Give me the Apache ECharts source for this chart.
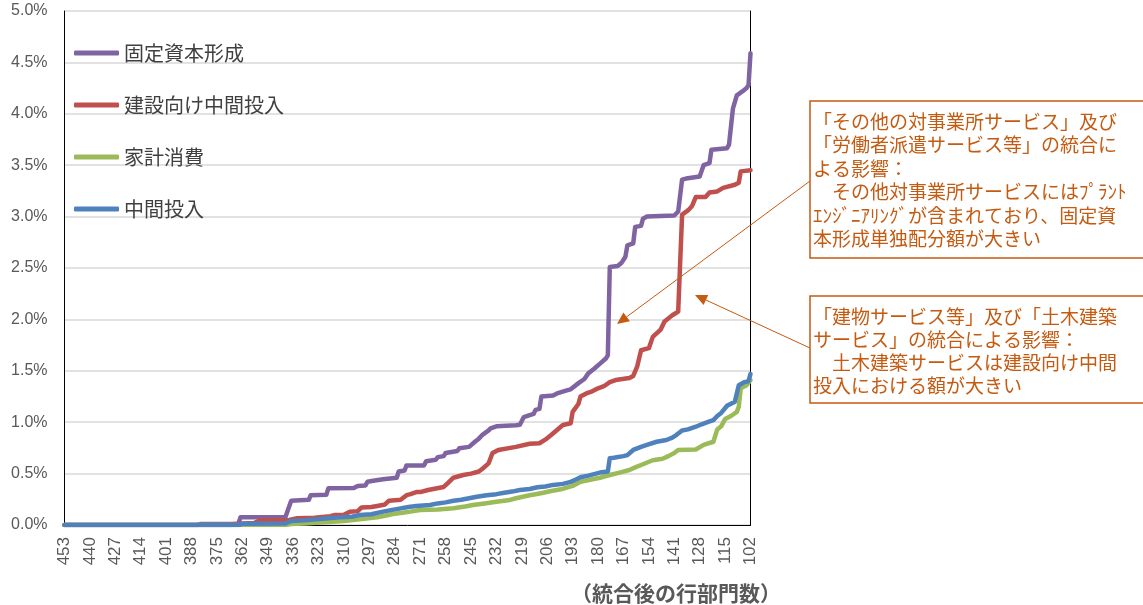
<!DOCTYPE html>
<html>
<head>
<meta charset="utf-8">
<script src="https://cdn.jsdelivr.net/npm/echarts@6/dist/echarts.min.js"></script>
<style>
html,body{margin:0;padding:0;background:#fff;}
#chart{width:1143px;height:605px;}
</style>
</head>
<body>
<div id="chart"></div>
<script>
// ---- categories: row-sector count after merging (453 → 102) ----
const CAT_FIRST = 453;
const CAT_LAST = 102;
const categories = [];
for (let c = CAT_FIRST; c >= CAT_LAST; c--) categories.push(String(c));

// ---- y-axis ticks (%) ----
const yTicks = { min: 0, max: 5, interval: 0.5 };

const seriesNames = ['固定資本形成', '建設向け中間投入', '家計消費', '中間投入'];

// ---- series values: [category, share %] at points where the value changes ----
const koteiShihon = [
  [453,0],[385,0],[383,0.01],[364,0.01],[363,0.075],[340,0.075],[337,0.236],[328,0.245],[327,0.29],
  [319,0.295],[318,0.357],[305,0.36],[303,0.38],[299,0.385],[298,0.42],[295,0.43],[290,0.445],[289,0.455],
  [283,0.46],[282,0.52],[279,0.53],[278,0.58],[269,0.58],[268,0.62],[263,0.635],[262,0.66],[259,0.67],
  [258,0.70],[252,0.72],[251,0.746],[246,0.76],[243,0.81],[241,0.84],[239,0.88],[236,0.92],[235,0.94],
  [232,0.96],[222,0.97],[220,0.975],[218,1.05],[213,1.08],[212,1.12],[210,1.13],[209,1.25],[203,1.26],
  [201,1.28],[196,1.31],[194,1.32],[190,1.38],[187,1.42],[185,1.475],[182,1.52],[179,1.57],[176,1.62],
  [175,1.65],[174,2.51],[170,2.52],[168,2.55],[166,2.61],[165,2.72],[162,2.74],[161,2.90],[158,2.91],
  [157,2.98],[155,3.0],[141,3.01],[139,3.05],[137,3.36],[135,3.37],[128,3.39],[126,3.50],[123,3.52],
  [122,3.65],[114,3.665],[113,3.70],[111,4.05],[109,4.18],[106,4.22],[104,4.25],[103,4.28],[102,4.59]
];
const kensetsuChukan = [
  [453,0],[368,0],[366,0.01],[356,0.02],[353,0.045],[340,0.045],[338,0.05],[334,0.065],[325,0.07],
  [324,0.08],[317,0.085],[315,0.097],[310,0.1],[307,0.13],[303,0.135],[301,0.17],[296,0.175],[293,0.185],
  [289,0.20],[287,0.236],[281,0.245],[278,0.29],[276,0.30],[273,0.32],[271,0.32],[267,0.34],[259,0.37],
  [257,0.405],[254,0.46],[249,0.486],[245,0.50],[241,0.52],[239,0.55],[236,0.60],[234,0.70],[231,0.73],
  [222,0.76],[215,0.79],[210,0.795],[207,0.83],[204,0.875],[201,0.924],[198,0.973],[194,0.99],[193,1.10],
  [190,1.18],[189,1.25],[186,1.28],[183,1.30],[180,1.33],[177,1.35],[174,1.39],[171,1.41],[164,1.43],
  [162,1.45],[160,1.54],[158,1.70],[154,1.72],[152,1.83],[148,1.90],[146,1.98],[142,2.04],[139,2.075],
  [138,2.08],[137,3.02],[134,3.06],[132,3.10],[130,3.19],[125,3.19],[123,3.235],[119,3.245],[116,3.28],
  [110,3.31],[108,3.33],[107,3.44],[102,3.45]
];
const kakeiShohi = [
  [453,0],[340,0],[337,0.01],[330,0.015],[324,0.022],[318,0.03],[310,0.04],[302,0.055],[293,0.075],
  [289,0.09],[285,0.107],[280,0.12],[276,0.13],[271,0.146],[262,0.15],[254,0.162],[248,0.18],[244,0.195],
  [238,0.21],[232,0.227],[226,0.24],[222,0.26],[215,0.29],[212,0.30],[208,0.314],[204,0.33],[199,0.347],
  [193,0.38],[189,0.42],[184,0.44],[179,0.46],[174,0.486],[169,0.51],[164,0.535],[161,0.56],[158,0.584],
  [152,0.63],[147,0.645],[144,0.67],[141,0.70],[139,0.73],[130,0.735],[126,0.78],[121,0.81],[119,0.93],
  [117,0.96],[115,1.03],[112,1.06],[109,1.10],[108,1.15],[107,1.33],[104,1.36],[102,1.41]
];
const chukanTonyu = [
  [453,0],[364,0],[362,0.012],[340,0.015],[337,0.04],[330,0.045],[324,0.055],[318,0.065],[312,0.075],
  [306,0.08],[302,0.097],[296,0.105],[290,0.13],[286,0.145],[281,0.162],[277,0.175],[273,0.185],[266,0.195],
  [262,0.21],[258,0.22],[254,0.236],[250,0.245],[246,0.26],[242,0.275],[237,0.29],[232,0.30],[228,0.314],
  [224,0.325],[220,0.34],[215,0.35],[211,0.367],[207,0.375],[203,0.39],[198,0.40],[194,0.42],[191,0.445],
  [189,0.465],[185,0.48],[179,0.51],[175,0.52],[174,0.65],[172,0.655],[167,0.67],[165,0.68],[162,0.73],
  [158,0.76],[155,0.78],[150,0.81],[145,0.827],[142,0.85],[140,0.875],[137,0.92],[134,0.93],[130,0.956],
  [127,0.98],[124,1.0],[121,1.02],[119,1.06],[117,1.09],[114,1.16],[110,1.20],[109,1.21],[108,1.36],
  [105,1.39],[103,1.40],[102,1.47]
];

// ---- annotation texts ----
const note1Lines = [
  '「その他の対事業所サービス」及び',
  '「労働者派遣サービス等」の統合に',
  'よる影響：',
  '　その他対事業所サービスにはﾌﾟﾗﾝﾄ',
  'ｴﾝｼﾞﾆｱﾘﾝｸﾞが含まれており、固定資',
  '本形成単独配分額が大きい'
];
const note2Lines = [
  '「建物サービス等」及び「土木建築',
  'サービス」の統合による影響：',
  '　土木建築サービスは建設向け中間',
  '投入における額が大きい'
];
const xAxisTitle = '（統合後の行部門数）';

// ---- styling ----
const colors = ['#8064A2', '#C0504D', '#9BBB59', '#4F81BD'];
const NOTE_COLOR = '#C55A11';
const JP = "'Noto Sans CJK JP', sans-serif";
const NUM = "'Liberation Sans', Arial, sans-serif";

const toSeriesData = arr => arr.map(([c, v]) => [String(c), v]);
const allSeries = [koteiShihon, kensetsuChukan, kakeiShohi, chukanTonyu];

function arrow(x1, y1, x2, y2) {
  const dx = x2 - x1, dy = y2 - y1, L = Math.hypot(dx, dy);
  const ux = dx / L, uy = dy / L, nx = -uy, ny = ux;
  const len = 12, hw = 5.5;
  const bx = x2 - ux * len, by = y2 - uy * len;
  return [
    { type: 'line', shape: { x1, y1, x2: bx, y2: by }, style: { stroke: NOTE_COLOR, lineWidth: 1 }, z: 10 },
    { type: 'polygon', shape: { points: [[x2, y2], [bx + nx * hw, by + ny * hw], [bx - nx * hw, by - ny * hw]] },
      style: { fill: NOTE_COLOR }, z: 10 }
  ];
}

const chart = echarts.init(document.getElementById('chart'), null, { renderer: 'canvas' });
chart.setOption({
  animation: false,
  backgroundColor: '#fff',
  color: colors,
  grid: { left: 64.5, right: 392.5, top: 11, bottom: 80, containLabel: false },
  legend: {
    orient: 'vertical', left: 74, top: 43, padding: 0, itemWidth: 45, itemHeight: 5, itemGap: 32,
    icon: 'roundRect',
    data: seriesNames,
    textStyle: { fontFamily: JP, fontSize: 20, color: '#404040', lineHeight: 20 }
  },
  xAxis: [{
    type: 'category', data: categories, boundaryGap: false,
    axisLine: { show: true, lineStyle: { color: '#D9D9D9', width: 1 } },
    axisTick: { show: false },
    axisLabel: { interval: 12, rotate: 90, margin: 12, fontFamily: NUM, fontSize: 17, color: '#595959' },
    splitLine: { show: false }
  }, {
    type: 'category', data: categories, boundaryGap: false, position: 'top',
    axisLine: { show: true, lineStyle: { color: '#000', width: 1 } },
    axisTick: { show: false }, axisLabel: { show: false }, splitLine: { show: false }
  }],
  yAxis: [{
    type: 'value', min: yTicks.min, max: yTicks.max, interval: yTicks.interval,
    axisLine: { show: true, lineStyle: { color: '#000', width: 1 } },
    axisTick: { show: false },
    axisLabel: { margin: 17, fontFamily: NUM, fontSize: 16, color: '#595959',
      formatter: v => v.toFixed(1) + '%' },
    splitLine: { show: true, lineStyle: { color: '#D9D9D9', width: 1.5 } }
  }, {
    type: 'value', min: yTicks.min, max: yTicks.max, interval: yTicks.interval, position: 'right',
    axisLine: { show: true, lineStyle: { color: '#000', width: 1 } },
    axisTick: { show: false }, axisLabel: { show: false }, splitLine: { show: false }
  }],
  series: seriesNames.map((name, i) => ({
    name, type: 'line', xAxisIndex: 0, yAxisIndex: 0,
    data: toSeriesData(allSeries[i]),
    showSymbol: false, symbol: 'none', smooth: false,
    lineStyle: { width: 4.5, color: colors[i], cap: 'round', join: 'round' },
    itemStyle: { color: colors[i] },
    z: 2 + i
  })),
  graphic: [
    { type: 'rect', shape: { x: 810, y: 101, width: 345, height: 157 },
      style: { fill: '#fff', stroke: NOTE_COLOR, lineWidth: 1.5 }, z: 10 },
    { type: 'text', x: 813, y: 110, z: 11,
      style: { text: note1Lines.join('\n'), fill: NOTE_COLOR, fontFamily: JP, fontSize: 19, lineHeight: 23.5, verticalAlign: 'top' } },
    { type: 'rect', shape: { x: 810, y: 296, width: 345, height: 107 },
      style: { fill: '#fff', stroke: NOTE_COLOR, lineWidth: 1.5 }, z: 10 },
    { type: 'text', x: 813, y: 305, z: 11,
      style: { text: note2Lines.join('\n'), fill: NOTE_COLOR, fontFamily: JP, fontSize: 19, lineHeight: 23, verticalAlign: 'top' } },
    ...arrow(810, 181, 617, 324),
    ...arrow(810, 348, 695, 295),
    { type: 'text', x: 676, y: 593, z: 11,
      style: { text: xAxisTitle, fill: '#595959', fontFamily: JP, fontSize: 21, fontWeight: 'bold',
        align: 'center', verticalAlign: 'middle' } }
  ]
});
</script>
</body>
</html>
